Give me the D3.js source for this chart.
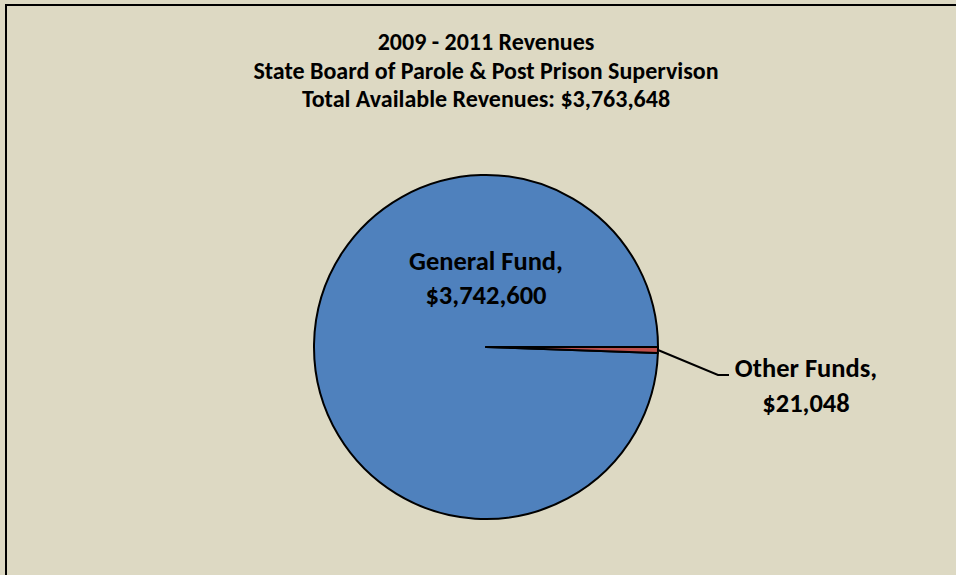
<!DOCTYPE html>
<html>
<head>
<meta charset="utf-8">
<script src="https://cdn.jsdelivr.net/npm/d3@7"></script>
<style>
  html, body { margin: 0; padding: 0; background: #DDD9C3; overflow: hidden; }
  svg { display: block; }
  text { font-family: Carlito, Lato, "Open Sans", sans-serif; font-weight: bold; fill: #000; }
</style>
</head>
<body>
<svg id="chart" width="956" height="575"></svg>
<script>
const titleLines = [
  "2009 - 2011 Revenues",
  "State Board of Parole & Post Prison Supervison",
  "Total Available Revenues: $3,763,648"
];
const categories = ["General Fund", "Other Funds"];
const values = [3742600, 21048];
const valueLabels = ["$3,742,600", "$21,048"];
const colors = ["#4F81BD", "#C0504D"];

const W = 956, H = 575;
const svg = d3.select("#chart");

svg.append("rect").attr("x", 0).attr("y", 0).attr("width", W).attr("height", H).attr("fill", "#DDD9C3");
// chart area border (only left and top visible)
svg.append("path").attr("d", `M6,${H} L6,5 L${W},5`)
  .attr("fill", "none").attr("stroke", "#000").attr("stroke-width", 2);

// title
const title = svg.append("text").attr("text-anchor", "middle").style("font-size", "24px");
titleLines.forEach((t, i) => {
  title.append("tspan").attr("x", 486).attr("y", 50 + i * 28.5).text(t);
});

const cx = 486, cy = 347, r = 172;
const total = d3.sum(values);
const otherAngle = 2 * Math.PI * values[1] / total;
const data = categories.map((c, i) => ({ name: c, value: values[i], label: valueLabels[i], color: colors[i] }));

const pie = d3.pie().value(d => d.value).sort(null)
  .startAngle(Math.PI / 2 + otherAngle)
  .endAngle(Math.PI / 2 + otherAngle + 2 * Math.PI);
const arcs = pie(data);
const arc = d3.arc().innerRadius(0).outerRadius(r);

const g = svg.append("g").attr("transform", `translate(${cx},${cy})`);
g.selectAll("path").data(arcs).enter().append("path")
  .attr("d", arc)
  .attr("fill", d => d.data.color)
  .attr("stroke", "#000")
  .attr("stroke-width", 2)
  .attr("stroke-linejoin", "round");

// General Fund label (inside)
const gl = svg.append("text").attr("text-anchor", "middle").style("font-size", "26.5px");
gl.append("tspan").attr("x", cx).attr("y", 270).text(categories[0] + ",");
gl.append("tspan").attr("x", cx).attr("y", 304).text(valueLabels[0]);

// Other Funds leader line
const oa = arcs[1];
const mid = (oa.startAngle + oa.endAngle) / 2;
const px = cx + Math.sin(mid) * r, py = cy - Math.cos(mid) * r;
svg.append("polyline")
  .attr("points", `${px},${py} 718,375 729,375`)
  .attr("fill", "none").attr("stroke", "#000").attr("stroke-width", 2);

const ol = svg.append("text").attr("text-anchor", "middle").style("font-size", "26.5px");
ol.append("tspan").attr("x", 806).attr("y", 377).text(categories[1] + ",");
ol.append("tspan").attr("x", 806).attr("y", 412).text(valueLabels[1]);
</script>
</body>
</html>
